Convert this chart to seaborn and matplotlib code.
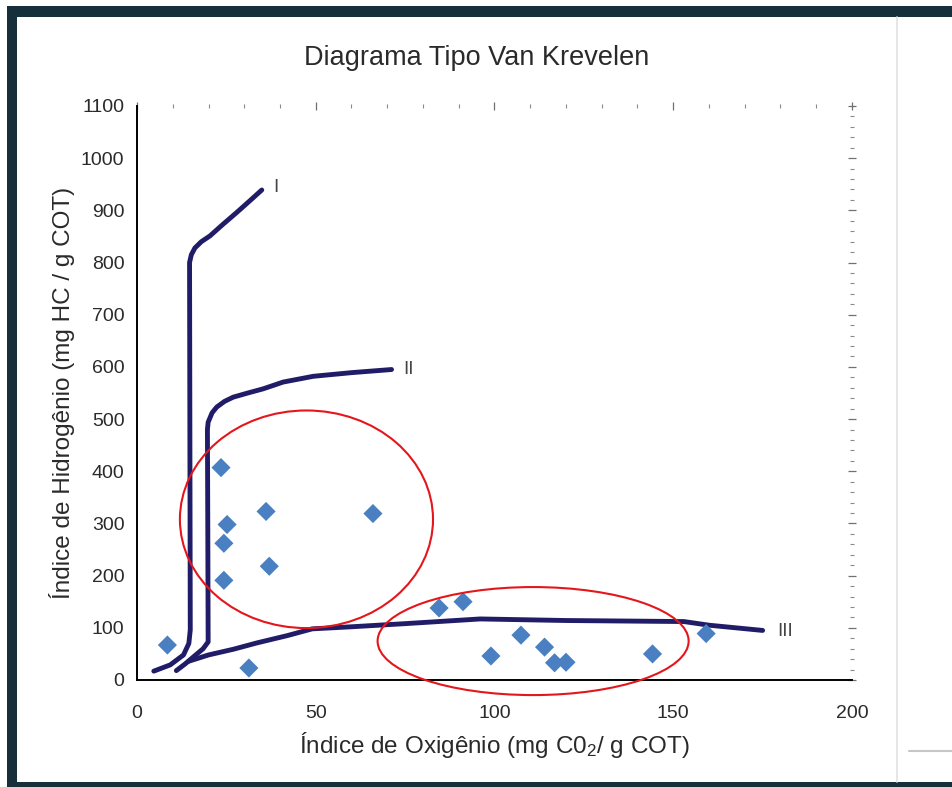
import matplotlib
matplotlib.use("Agg")
import matplotlib.pyplot as plt
from matplotlib.patches import Rectangle, Ellipse
from matplotlib.lines import Line2D
from matplotlib.ticker import MultipleLocator
import pandas as pd
import seaborn as sns

# Evolution curves of kerogen types (IO, IH)
tipo1_io = [4.7, 9.3, 13.0, 14.5, 14.9, 14.8, 14.7, 15.2, 16.2, 18.0, 20.4, 24.0, 27.9, 31.5, 34.9]
tipo1_ih = [17, 29, 48, 70, 96, 450, 800, 815, 828, 840, 851, 873, 896, 918, 939]

tipo2_io = [11.0, 13.5, 15.9, 18.5, 19.9, 19.8, 19.7, 19.9, 21.0, 22.3, 24.5, 26.9, 31.0, 35.3, 40.9, 49.3, 60.0, 71.2]
tipo2_ih = [18, 31, 45, 60, 73, 300, 480, 494, 512, 523, 534, 542, 550, 558, 571, 582, 589, 595]

tipo3_io = [14.5, 20.0, 27.0, 33.5, 42.0, 49.0, 60.0, 75.0, 96.0, 120.0, 153.0, 160.0, 175.0]
tipo3_ih = [36, 48, 59, 71, 85, 98, 102, 108, 117, 114, 112, 105, 95]

# Samples
amostra_io = [8.5, 23.5, 24.3, 25.2, 24.3, 36.1, 37.0, 66.0, 31.3, 84.5, 91.2,
              99.0, 107.4, 114.0, 116.8, 120.0, 144.2, 159.2]
amostra_ih = [67, 407, 262, 298, 191, 323, 218, 319, 23, 138, 150,
              46, 86, 63, 33, 34, 50, 89]

rotulos_tipo = ["I", "II", "III"]
rotulos_io = [38.0, 74.4, 179.0]
rotulos_ih = [943, 595, 92]

x_ticks = [0, 50, 100, 150, 200]
y_ticks = list(range(0, 1101, 100))

sns.set_style("white")
plt.rcParams["font.family"] = ["Liberation Sans", "DejaVu Sans"]
plt.rcParams["mathtext.fontset"] = "custom"
plt.rcParams["mathtext.rm"] = "Liberation Sans"
plt.rcParams["mathtext.it"] = "Liberation Sans:italic"

W, H = 953, 787
fig = plt.figure(figsize=(W / 100, H / 100), dpi=100)
fig.patch.set_facecolor("white")

# Window frame
frame = "#15303a"
fig.add_artist(Rectangle((7 / W, 1 - 17 / H), 1 - 7 / W, 11 / H, transform=fig.transFigure,
                         facecolor=frame, edgecolor="none", zorder=0))
fig.add_artist(Rectangle((7 / W, 0), 10 / W, 1 - 6 / H, transform=fig.transFigure,
                         facecolor=frame, edgecolor="none", zorder=0))
fig.add_artist(Rectangle((7 / W, 0), 1 - 7 / W, 5.5 / H, transform=fig.transFigure,
                         facecolor=frame, edgecolor="none", zorder=0))
fig.add_artist(Line2D([897 / W, 897 / W], [5 / H, 1 - 17 / H], transform=fig.transFigure,
                      color="#e2e2e2", lw=1.2, zorder=0))
fig.add_artist(Line2D([909 / W, 1], [1 - 751 / H, 1 - 751 / H], transform=fig.transFigure,
                      color="#c6c6c6", lw=1.5, zorder=0))

ax = fig.add_axes([137 / W, 1 - 680 / H, (852 - 137) / W, (680 - 106) / H])
ax.set_facecolor("white")

curva = "#201c68"
for xs, ys in [(tipo1_io, tipo1_ih), (tipo2_io, tipo2_ih), (tipo3_io, tipo3_ih)]:
    df = pd.DataFrame({"IO": xs, "IH": ys})
    sns.lineplot(data=df, x="IO", y="IH", sort=False, estimator=None, ax=ax,
                 color=curva, lw=3.5, solid_capstyle="round", solid_joinstyle="round",
                 zorder=3)

pts = pd.DataFrame({"IO": amostra_io, "IH": amostra_ih})
sns.scatterplot(data=pts, x="IO", y="IH", marker="D", s=95, color="#4a80c1",
                edgecolor="none", ax=ax, zorder=4)

for t, x, y in zip(rotulos_tipo, rotulos_io, rotulos_ih):
    ax.text(x, y, t, ha="left", va="center", fontsize=13.5, color="#444444")

# Highlighted groups
vermelho = "#e5161b"
ax.add_patch(Ellipse((47.4, 308), 70.8, 417, fill=False, edgecolor=vermelho, lw=1.5,
                     clip_on=False, zorder=5))
ax.add_patch(Ellipse((110.8, 74.6), 87, 207, fill=False, edgecolor=vermelho, lw=1.5,
                     clip_on=False, zorder=5))

ax.set_xlim(0, 200)
ax.set_ylim(0, 1100)
ax.set_xticks(x_ticks)
ax.set_yticks(y_ticks)
ax.xaxis.set_minor_locator(MultipleLocator(10))
ax.yaxis.set_minor_locator(MultipleLocator(20))

for s in ["top", "right"]:
    ax.spines[s].set_visible(False)
for s in ["left", "bottom"]:
    ax.spines[s].set_color("black")
    ax.spines[s].set_linewidth(1.4)

ax.tick_params(axis="x", which="major", direction="out", length=5, width=1.1,
               color="black", labelsize=14, labelcolor="#2a2a2a", pad=13)
ax.tick_params(axis="x", which="minor", direction="in", length=4, width=0.9, color="black")
ax.tick_params(axis="y", which="major", direction="inout", length=8, width=1.1,
               color="black", labelsize=14, labelcolor="#2a2a2a", pad=5)
ax.tick_params(axis="y", which="minor", direction="in", length=4, width=0.9, color="black")

# Tick marks along the open top and right edges
sec_x = ax.secondary_xaxis("top")
sec_x.set_xticks(x_ticks)
sec_x.xaxis.set_minor_locator(MultipleLocator(10))
sec_x.spines["top"].set_visible(False)
sec_x.tick_params(which="major", direction="inout", length=6, width=0.9, color="#707070",
                  labeltop=False)
sec_x.tick_params(which="minor", direction="inout", length=3.5, width=0.8, color="#8a8a8a")

sec_y = ax.secondary_yaxis("right")
sec_y.set_yticks(y_ticks)
sec_y.yaxis.set_minor_locator(MultipleLocator(20))
sec_y.spines["right"].set_visible(False)
sec_y.tick_params(which="major", direction="inout", length=6, width=0.9, color="#707070",
                  labelright=False)
sec_y.tick_params(which="minor", direction="inout", length=3.5, width=0.8, color="#8a8a8a")

ax.set_xlabel("Índice de Oxigênio (mg C0$_\\mathrm{2}$/ g COT)", fontsize=17.5, color="#2a2a2a")
ax.xaxis.set_label_coords(0.5, (680 - 745) / 574)
ax.xaxis.label.set_verticalalignment("center")
ax.set_ylabel("Índice de Hidrogênio (mg HC / g COT)", fontsize=17.5, color="#2a2a2a")
ax.yaxis.set_label_coords((62 - 137) / 715, (680 - 393) / 574)
ax.yaxis.label.set_verticalalignment("center")

fig.text(476.5 / W, 1 - 58 / H, "Diagrama Tipo Van Krevelen", ha="center", va="center",
         fontsize=19.5, color="#2a2a2a")

fig.savefig("out.png", dpi=100, facecolor="white")
